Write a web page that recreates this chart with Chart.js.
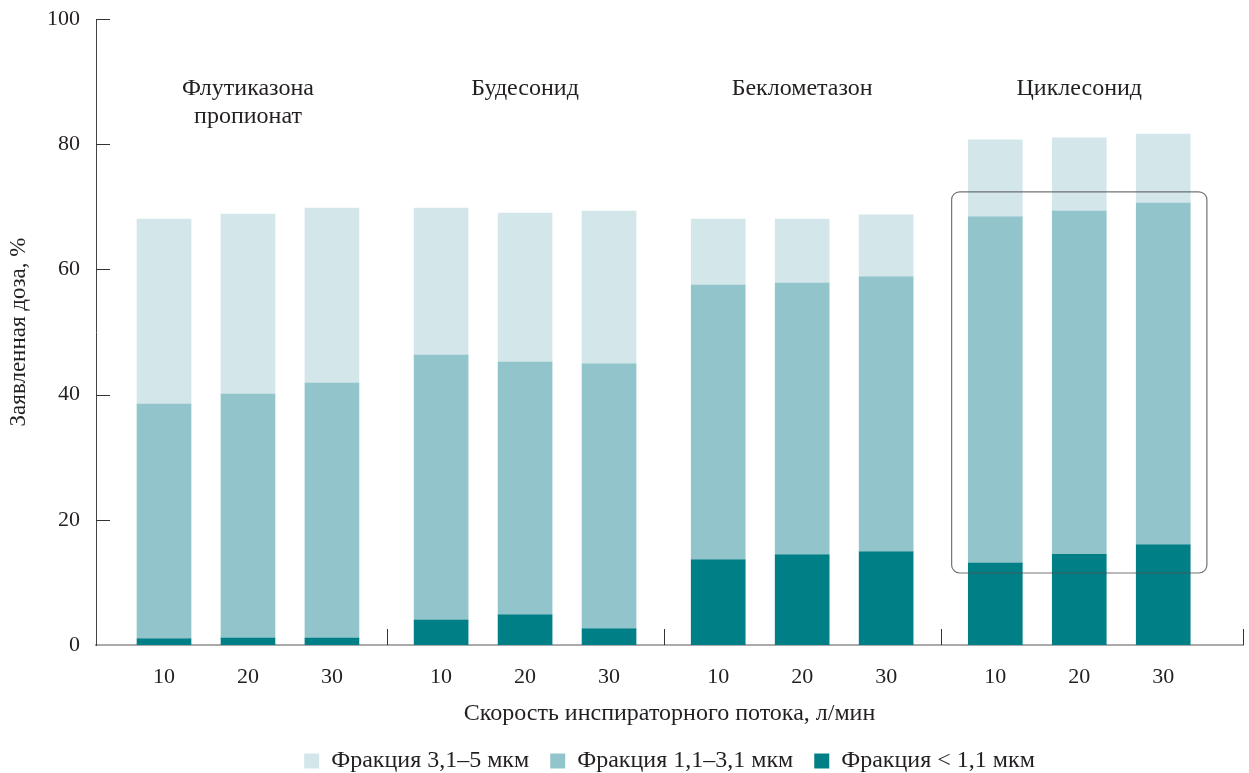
<!DOCTYPE html>
<html>
<head>
<meta charset="utf-8">
<script src="https://cdn.jsdelivr.net/npm/chart.js@4"></script>
<style>
  html, body { margin: 0; padding: 0; background: #fff; }
  #wrap { width: 1249px; height: 773px; }
</style>
</head>
<body>
<div id="wrap"><canvas id="grafico"></canvas></div>
<script>
// ================= DADOS =================

const grupos = ["Флутиказона\nпропионат", "Будесонид", "Беклометазон", "Циклесонид"];
const velocidades = ["10", "20", "30", "10", "20", "30", "10", "20", "30", "10", "20", "30"];
const posicoes = [1, 2, 3, 4.3, 5.3, 6.3, 7.6, 8.6, 9.6, 10.9, 11.9, 12.9];

// valores, de baixo para cima
const fracMenor = [1.0, 1.1, 1.1, 4.0, 4.8, 2.6, 13.6, 14.4, 14.9, 13.1, 14.5, 16.0];
const fracMedia = [37.5, 39.0, 40.75, 42.3, 40.4, 42.3, 43.9, 43.4, 43.9, 55.3, 54.8, 54.6];
const fracMaior = [29.55, 28.75, 27.95, 23.5, 23.8, 24.4, 10.55, 10.25, 9.9, 12.3, 11.7, 11.0];

const separadores = [3.65, 6.95, 10.25, 13.85];
const destaque = { x0: 10.38, x1: 13.42, y0: 11.5, y1: 72.4 };

const FONTE = "'Liberation Serif', 'DejaVu Serif', serif";
const COR_TEXTO = "#231f20";

// ================= PLUGIN =================

const extras = {
  id: "extras",
  afterDatasetsDraw(chart) {
    const { ctx, scales: { x, y } } = chart;
    ctx.save();

    // marcas do eixo y para dentro (sem a do zero)
    ctx.strokeStyle = "#333";
    ctx.lineWidth = 1;
    y.ticks.forEach(t => {
      if (t.value === 0) return;
      const py = Math.round(y.getPixelForValue(t.value)) + 0.5;
      ctx.beginPath();
      ctx.moveTo(x.left, py);
      ctx.lineTo(x.left + 14, py);
      ctx.stroke();
    });

    // separadores dos grupos
    separadores.forEach(s => {
      const px = Math.round(x.getPixelForValue(s)) + 0.5;
      ctx.beginPath();
      ctx.moveTo(px, y.bottom);
      ctx.lineTo(px, y.bottom - 16);
      ctx.stroke();
    });

    // retângulo de destaque
    const rx = x.getPixelForValue(destaque.x0);
    const rw = x.getPixelForValue(destaque.x1) - rx;
    const ry = y.getPixelForValue(destaque.y1);
    const rh = y.getPixelForValue(destaque.y0) - ry;
    ctx.strokeStyle = "rgba(80,80,80,0.8)";
    ctx.lineWidth = 1.2;
    ctx.beginPath();
    ctx.roundRect(rx, ry, rw, rh, 8);
    ctx.stroke();

    // nomes dos grupos
    ctx.fillStyle = COR_TEXTO;
    ctx.font = "24px " + FONTE;
    ctx.textAlign = "center";
    ctx.textBaseline = "middle";
    grupos.forEach((g, i) => {
      const px = x.getPixelForValue(posicoes[i * 3 + 1]);
      const py = y.getPixelForValue(88.8);
      g.split("\n").forEach((linha, k) => ctx.fillText(linha, px, py + k * 28));
    });

    ctx.restore();
  }
};

// ================= GRÁFICO =================

const pontos = arr => arr.map((v, i) => ({ x: posicoes[i], y: v }));

new Chart(document.getElementById("grafico"), {
  type: "bar",
  data: {
    datasets: [
      { label: "Фракция < 1,1 мкм", data: pontos(fracMenor), backgroundColor: "#007f86" },
      { label: "Фракция 1,1–3,1 мкм", data: pontos(fracMedia), backgroundColor: "#92c5cb" },
      { label: "Фракция 3,1–5 мкм", data: pontos(fracMaior), backgroundColor: "#d3e6ea" }
    ]
  },
  options: {
    responsive: true,
    maintainAspectRatio: false,
    animation: false,
    layout: { padding: { top: 19, right: 6, left: 0, bottom: -10 } },
    datasets: { bar: { barThickness: 54, borderWidth: 0 } },
    plugins: {
      legend: {
        position: "bottom",
        fullSize: false,
        reverse: true,
        labels: {
          boxWidth: 15, boxHeight: 15, padding: 21,
          color: COR_TEXTO,
          font: { family: FONTE, size: 24 }
        }
      },
      tooltip: { enabled: false }
    },
    scales: {
      x: {
        type: "linear",
        stacked: true,
        offset: false,
        min: 0.19,
        max: 13.85,
        grid: { display: false, drawTicks: false },
        border: { display: true, color: "#aaa", width: 2 },
        afterBuildTicks: s => { s.ticks = posicoes.map(v => ({ value: v })); },
        ticks: {
          autoSkip: false,
          maxRotation: 0,
          padding: 19,
          color: COR_TEXTO,
          font: { family: FONTE, size: 22 },
          callback: (v, i) => velocidades[i]
        },
        title: {
          display: true,
          text: "Скорость инспираторного потока, л/мин",
          color: COR_TEXTO,
          font: { family: FONTE, size: 24 },
          padding: { top: 0, bottom: 0 }
        },
        afterFit: s => { s.height = 83; }
      },
      y: {
        stacked: true,
        min: 0,
        max: 100,
        grid: { display: false, drawTicks: false },
        border: { display: true, color: "#444", width: 1 },
        ticks: {
          stepSize: 20,
          padding: 16,
          color: COR_TEXTO,
          font: { family: FONTE, size: 22 }
        },
        title: {
          display: true,
          text: "Заявленная доза, %",
          color: COR_TEXTO,
          font: { family: FONTE, size: 23 },
          padding: { top: 5, bottom: 0 }
        },
        afterFit: s => {
          s.width = 96;
          s.paddingTop = 0;
          s.paddingBottom = 0;
        }
      }
    }
  },
  plugins: [extras]
});
</script>
</body>
</html>
